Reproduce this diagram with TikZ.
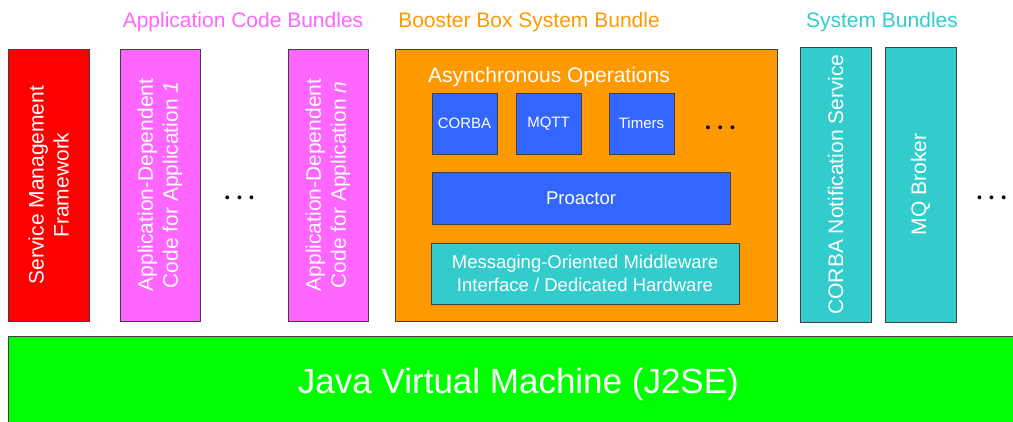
\documentclass[tikz,border=0pt]{standalone}
\usepackage{fontspec}
\setmainfont{Liberation Sans}
\usepackage{tikz}

\definecolor{smfred}{HTML}{FF0000}
\definecolor{apppink}{HTML}{FF66FF}
\definecolor{boxorange}{HTML}{FF9900}
\definecolor{systeal}{HTML}{33CCCC}
\definecolor{opblue}{HTML}{3366FF}
\definecolor{jvmgreen}{HTML}{00FF00}

\newcommand\titlefont{\fontsize{21}{25}\selectfont}
\newcommand\opfont{\fontsize{15}{18}\selectfont}
\newcommand\midfont{\fontsize{18.5}{23}\selectfont}
\newcommand\jvmfont{\fontsize{35}{40}\selectfont}
\newcommand\dotsfont{\fontsize{14}{16}\selectfont}
\newcommand\moredots{\textbullet\hspace{7.3pt}\textbullet\hspace{7.3pt}\textbullet}

\tikzset{
	layer/.style={draw=black!75, line width=0.9pt, text=white, align=center, inner sep=0pt},
	bundle/.style={layer, rotate=90, minimum width=272pt, minimum height=81pt, font=\titlefont},
	opbox/.style={layer, fill=opblue, minimum width=65pt, minimum height=61pt, font=\opfont},
	grouptitle/.style={font=\titlefont, inner sep=0pt},
	more/.style={font=\dotsfont, inner sep=0pt, anchor=base}
}

\begin{document}
\begin{tikzpicture}[x=1pt, y=1pt]
	\useasboundingbox (0,0) rectangle (1013,421);
	\begin{scope}
		\clip (0,0) rectangle (1013,421);
		% virtual machine underneath everything
		\node[layer, fill=jvmgreen, anchor=north west, minimum width=1020pt, minimum height=95pt, font=\jvmfont] (jvm) at (8,85) {Java Virtual Machine (J2SE)};
	\end{scope}

	% group headings
	\node[grouptitle, text=apppink] (apptitle) at (243,399) {Application Code Bundles};
	\node[grouptitle, text=boxorange] (boostertitle) at (529,399) {Booster Box System Bundle};
	\node[grouptitle, text=systeal] (systitle) at (882,399) {System Bundles};

	% vertical bundles
	\node[bundle, fill=smfred] (smf) at (48.5,236) {Service Management\\Framework};
	\node[bundle, fill=apppink, minimum height=80pt] (appone) at (160,236) {Application-Dependent\\Code for Application \textit{1}};
	\node[more] (appdots) at (239.5,218.6) {\moredots};
	\node[bundle, fill=apppink, minimum height=80pt] (appn) at (328,236) {Application-Dependent\\Code for Application \textit{n}};

	% booster box
	\node[layer, fill=boxorange, minimum width=382pt, minimum height=272pt] (booster) at (586,236) {};
	\node[grouptitle, text=white, anchor=west] (async) at (428,344) {Asynchronous Operations};
	\node[opbox] (corba) at (464.5,297.5) {CORBA};
	\node[opbox] (mqtt) at (548.5,297.5) {MQTT};
	\node[opbox] (timers) at (641.5,297.5) {Timers};
	\node[more] (opdots) at (720.3,288.6) {\moredots};
	\node[layer, fill=opblue, minimum width=298pt, minimum height=52pt, font=\midfont] (proactor) at (581,223) {Proactor};
	\node[layer, fill=systeal, minimum width=308pt, minimum height=61pt, font=\midfont] (mom) at (585,147.5) {Messaging-Oriented Middleware\\Interface / Dedicated Hardware};

	% system bundles
	\node[bundle, fill=systeal, minimum width=275pt, minimum height=71pt] (notify) at (835.5,236.5) {CORBA Notification Service};
	\node[bundle, fill=systeal, minimum width=275pt, minimum height=71pt] (broker) at (920.5,236.5) {MQ Broker};
	\node[more] (sysdots) at (991.7,218.6) {\moredots};
\end{tikzpicture}
\end{document}
